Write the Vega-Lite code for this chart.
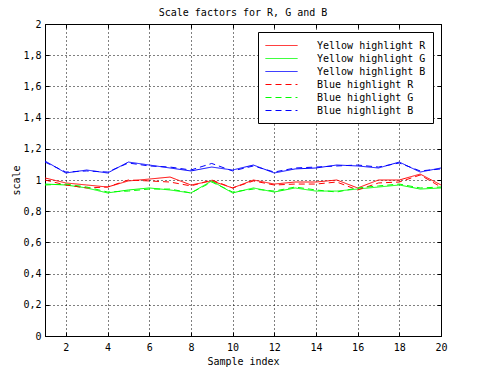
{
  "$schema": "https://vega.github.io/schema/vega-lite/v6.json",
  "width": 396,
  "height": 312,
  "autosize": {"type": "none"},
  "padding": {"left": 45, "top": 24, "right": 48, "bottom": 38},
  "background": "white",
  "title": {"text": "Scale factors for R, G and B", "font": "DejaVu Sans Mono", "fontSize": 10, "fontWeight": "normal", "color": "black", "offset": 1},
  "config": {
    "view": {"stroke": "black", "strokeWidth": 1},
    "font": "DejaVu Sans Mono"
  },
  "data": {"values": [
    {"i":1,"Yellow highlight R":1.013,"Yellow highlight G":0.974,"Yellow highlight B":1.122,"Blue highlight R":1.0,"Blue highlight G":0.968,"Blue highlight B":1.115},
    {"i":2,"Yellow highlight R":0.981,"Yellow highlight G":0.968,"Yellow highlight B":1.045,"Blue highlight R":0.968,"Blue highlight G":0.974,"Blue highlight B":1.051},
    {"i":3,"Yellow highlight R":0.968,"Yellow highlight G":0.949,"Yellow highlight B":1.064,"Blue highlight R":0.949,"Blue highlight G":0.955,"Blue highlight B":1.058},
    {"i":4,"Yellow highlight R":0.955,"Yellow highlight G":0.917,"Yellow highlight B":1.045,"Blue highlight R":0.955,"Blue highlight G":0.923,"Blue highlight B":1.051},
    {"i":5,"Yellow highlight R":0.994,"Yellow highlight G":0.936,"Yellow highlight B":1.115,"Blue highlight R":1.0,"Blue highlight G":0.929,"Blue highlight B":1.109},
    {"i":6,"Yellow highlight R":1.006,"Yellow highlight G":0.949,"Yellow highlight B":1.096,"Blue highlight R":0.994,"Blue highlight G":0.942,"Blue highlight B":1.09},
    {"i":7,"Yellow highlight R":1.019,"Yellow highlight G":0.936,"Yellow highlight B":1.077,"Blue highlight R":0.987,"Blue highlight G":0.942,"Blue highlight B":1.083},
    {"i":8,"Yellow highlight R":0.968,"Yellow highlight G":0.917,"Yellow highlight B":1.058,"Blue highlight R":0.962,"Blue highlight G":0.917,"Blue highlight B":1.064},
    {"i":9,"Yellow highlight R":0.994,"Yellow highlight G":0.994,"Yellow highlight B":1.083,"Blue highlight R":1.0,"Blue highlight G":0.987,"Blue highlight B":1.106},
    {"i":10,"Yellow highlight R":0.949,"Yellow highlight G":0.917,"Yellow highlight B":1.064,"Blue highlight R":0.949,"Blue highlight G":0.923,"Blue highlight B":1.058},
    {"i":11,"Yellow highlight R":1.0,"Yellow highlight G":0.949,"Yellow highlight B":1.096,"Blue highlight R":0.994,"Blue highlight G":0.942,"Blue highlight B":1.09},
    {"i":12,"Yellow highlight R":0.974,"Yellow highlight G":0.923,"Yellow highlight B":1.045,"Blue highlight R":0.968,"Blue highlight G":0.929,"Blue highlight B":1.051},
    {"i":13,"Yellow highlight R":0.987,"Yellow highlight G":0.949,"Yellow highlight B":1.071,"Blue highlight R":0.974,"Blue highlight G":0.955,"Blue highlight B":1.077},
    {"i":14,"Yellow highlight R":0.987,"Yellow highlight G":0.929,"Yellow highlight B":1.077,"Blue highlight R":0.974,"Blue highlight G":0.936,"Blue highlight B":1.083},
    {"i":15,"Yellow highlight R":1.0,"Yellow highlight G":0.929,"Yellow highlight B":1.096,"Blue highlight R":0.987,"Blue highlight G":0.923,"Blue highlight B":1.09},
    {"i":16,"Yellow highlight R":0.949,"Yellow highlight G":0.942,"Yellow highlight B":1.09,"Blue highlight R":0.936,"Blue highlight G":0.949,"Blue highlight B":1.096},
    {"i":17,"Yellow highlight R":1.0,"Yellow highlight G":0.955,"Yellow highlight B":1.077,"Blue highlight R":0.981,"Blue highlight G":0.962,"Blue highlight B":1.083},
    {"i":18,"Yellow highlight R":1.0,"Yellow highlight G":0.968,"Yellow highlight B":1.115,"Blue highlight R":0.987,"Blue highlight G":0.974,"Blue highlight B":1.109},
    {"i":19,"Yellow highlight R":1.038,"Yellow highlight G":0.942,"Yellow highlight B":1.051,"Blue highlight R":1.032,"Blue highlight G":0.949,"Blue highlight B":1.058},
    {"i":20,"Yellow highlight R":0.968,"Yellow highlight G":0.949,"Yellow highlight B":1.077,"Blue highlight R":0.955,"Blue highlight G":0.955,"Blue highlight B":1.071}
  ]},
  "transform": [
    {"fold": ["Yellow highlight R","Yellow highlight G","Yellow highlight B","Blue highlight R","Blue highlight G","Blue highlight B"], "as": ["series","v"]}
  ],
  "resolve": {"axis": {"x": "independent", "y": "independent"}},
  "layer": [
    {
      "mark": {"type": "line", "strokeWidth": 1, "clip": true},
      "encoding": {
        "x": {"field": "i", "type": "quantitative",
          "scale": {"domain": [1, 20], "nice": false, "zero": false},
          "axis": {"orient": "bottom", "title": "Sample index", "values": [2,4,6,8,10,12,14,16,18,20],
            "grid": true, "gridColor": "black", "gridDash": [1,3], "gridOpacity": 1, "gridWidth": 1,
            "domain": true, "domainColor": "black", "ticks": true, "tickColor": "black", "tickSize": -4,
            "labelFlush": false, "labelPadding": 10, "labelFont": "DejaVu Sans Mono", "labelFontSize": 10, "labelColor": "black",
            "titleFont": "DejaVu Sans Mono", "titleFontSize": 10, "titleFontWeight": "normal", "titleColor": "black", "titlePadding": 4}},
        "y": {"field": "v", "type": "quantitative",
          "scale": {"domain": [0, 2], "nice": false},
          "axis": {"orient": "left", "title": "scale", "values": [0,0.2,0.4,0.6,0.8,1,1.2,1.4,1.6,1.8,2],
            "labelExpr": "replace(format(datum.value, '.1~f'), '.', ',')",
            "grid": true, "gridColor": "black", "gridDash": [1,3], "gridOpacity": 1, "gridWidth": 1,
            "domain": true, "domainColor": "black", "ticks": true, "tickColor": "black", "tickSize": -4,
            "labelFlush": false, "labelPadding": 8, "labelFont": "DejaVu Sans Mono", "labelFontSize": 10, "labelColor": "black",
            "titleFont": "DejaVu Sans Mono", "titleFontSize": 10, "titleFontWeight": "normal", "titleColor": "black", "titlePadding": 1}},
        "color": {"field": "series", "type": "nominal",
          "scale": {"domain": ["Yellow highlight R","Yellow highlight G","Yellow highlight B","Blue highlight R","Blue highlight G","Blue highlight B"],
                    "range": ["#ff0000","#00ff00","#0000ff","#ff0000","#00ff00","#0000ff"]},
          "legend": {"title": null, "orient": "none", "legendX": 213, "legendY": 8,
            "symbolType": "M-1,0H4.333", "symbolSize": 144, "symbolStrokeWidth": 1,
            "labelFont": "DejaVu Sans Mono", "labelFontSize": 10, "labelColor": "black", "labelOffset": 39,
            "strokeColor": "black", "fillColor": "white", "padding": 7, "rowPadding": 1, "labelLimit": 200,
            "encode": {"symbols": {"update": {"strokeDash": {"signal": "indexof(datum.value, 'Blue') == 0 ? [6, 4] : [1, 0]"}}}}}},
        "strokeDash": {"field": "series", "type": "nominal",
          "scale": {"domain": ["Yellow highlight R","Yellow highlight G","Yellow highlight B","Blue highlight R","Blue highlight G","Blue highlight B"],
                    "range": [[1,0],[1,0],[1,0],[6,4],[6,4],[6,4]]},
          "legend": null}
      }
    },
    {
      "mark": {"type": "point", "opacity": 0},
      "encoding": {
        "x": {"field": "i", "type": "quantitative",
          "axis": {"orient": "top", "title": null, "values": [2,4,6,8,10,12,14,16,18,20], "labels": false, "grid": false,
            "domain": false, "ticks": true, "tickColor": "black", "tickSize": -4}},
        "y": {"field": "v", "type": "quantitative",
          "axis": {"orient": "right", "title": null, "values": [0,0.2,0.4,0.6,0.8,1,1.2,1.4,1.6,1.8,2], "labels": false, "grid": false,
            "domain": false, "ticks": true, "tickColor": "black", "tickSize": -4}}
      }
    }
  ]
}
